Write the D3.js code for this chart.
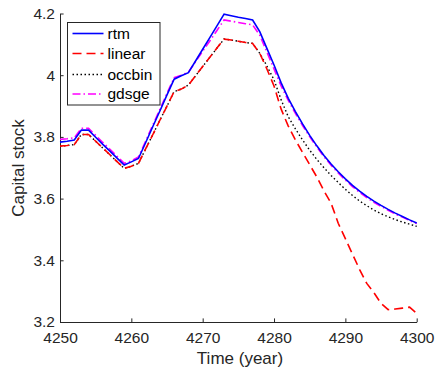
<!DOCTYPE html>
<html><head><meta charset="utf-8">
<script src="https://cdn.jsdelivr.net/npm/d3@7"></script>
<style>body{margin:0;background:#fff;}svg{display:block;font-family:"Liberation Sans",Arial,sans-serif;}</style>
</head><body><svg id="c" width="435" height="369"></svg>
<script>
const years = d3.range(4250, 4301);
const rtm = [3.783,3.786,3.790,3.822,3.822,3.799,3.776,3.754,3.731,3.709,3.719,3.730,3.781,3.833,3.884,3.936,3.987,3.998,4.008,4.046,4.084,4.122,4.160,4.198,4.193,4.188,4.184,4.179,4.141,4.087,4.033,3.975,3.925,3.882,3.842,3.805,3.771,3.740,3.712,3.687,3.664,3.643,3.624,3.607,3.592,3.578,3.565,3.553,3.542,3.531,3.521];
const linear = [3.770,3.772,3.775,3.808,3.808,3.786,3.764,3.742,3.720,3.698,3.705,3.714,3.761,3.807,3.854,3.900,3.947,3.955,3.968,3.998,4.028,4.058,4.088,4.117,4.114,4.110,4.106,4.103,4.071,4.020,3.965,3.890,3.835,3.790,3.750,3.710,3.670,3.625,3.585,3.520,3.470,3.420,3.370,3.325,3.295,3.260,3.240,3.242,3.245,3.248,3.228];
const occbin = [3.770,3.772,3.775,3.808,3.808,3.786,3.764,3.742,3.720,3.698,3.705,3.714,3.761,3.807,3.854,3.900,3.947,3.955,3.968,3.998,4.028,4.058,4.088,4.117,4.114,4.110,4.106,4.103,4.071,4.030,3.985,3.920,3.865,3.826,3.790,3.757,3.727,3.700,3.675,3.652,3.630,3.610,3.592,3.577,3.563,3.551,3.541,3.532,3.524,3.517,3.510];
const gdsge = [3.792,3.794,3.797,3.828,3.828,3.805,3.782,3.760,3.737,3.714,3.722,3.735,3.786,3.838,3.889,3.941,3.992,4.000,4.010,4.044,4.078,4.111,4.145,4.179,4.175,4.171,4.167,4.163,4.130,4.075,4.020,3.965,3.918,3.876,3.837,3.801,3.767,3.736,3.708,3.683,3.660,3.639,3.620,3.603,3.588,3.575,3.562,3.550,3.540,3.529,3.519];
const seriesNames = ["rtm","linear","occbin","gdsge"];
const xTicks = [4250,4260,4270,4280,4290,4300];
const yTicks = [3.2,3.4,3.6,3.8,4.0,4.2];

const svg = d3.select("#c");
const L = 60, R = 416.7, T = 13.5, B = 322;
const x = d3.scaleLinear().domain([4250,4300]).range([L,R]);
const y = d3.scaleLinear().domain([3.2,4.2]).range([B,T]);
const axc = "#262626";

const gx = svg.append("g").attr("transform",`translate(0,${B})`)
  .call(d3.axisBottom(x).tickValues(xTicks).tickSizeInner(-3.6).tickSizeOuter(0).tickPadding(10).tickFormat(d3.format("d")));
const gy = svg.append("g").attr("transform",`translate(${L},0)`)
  .call(d3.axisLeft(y).tickValues(yTicks).tickSizeInner(-3.6).tickSizeOuter(0).tickPadding(5).tickFormat(d=>String(+d.toFixed(1))));
[gx,gy].forEach(g=>{
  g.selectAll("path").attr("stroke",axc).attr("stroke-width",1);
  g.selectAll("line").attr("stroke",axc);
  g.selectAll("text").attr("fill",axc).style("font-size","15.5px").style("font-family","'Liberation Sans',Arial,sans-serif");
});
gx.selectAll("text").attr("dy","0.71em");

const styles = {
  rtm:{color:"#0000ff",dash:null,w:1.6},
  linear:{color:"#ff0000",dash:"9,5",w:1.6},
  occbin:{color:"#000000",dash:"1.5,2.5",w:1.4},
  gdsge:{color:"#ff00ff",dash:"8,3,1.5,3",w:1.6}
};
const data = {rtm, linear, occbin, gdsge};
const line = d3.line().x((d,i)=>x(years[i])).y(d=>y(d));
["gdsge","occbin","linear","rtm"].forEach(k=>{
  svg.append("path").datum(data[k]).attr("d",line).attr("fill","none")
    .attr("stroke",styles[k].color).attr("stroke-width",styles[k].w)
    .attr("stroke-dasharray",styles[k].dash);
});

svg.append("text").attr("x",240).attr("y",364).attr("text-anchor","middle")
  .attr("fill",axc).style("font-size","17px").text("Time (year)");
svg.append("text").attr("transform","translate(24,168) rotate(-90)").attr("text-anchor","middle")
  .attr("fill",axc).style("font-size","17px").text("Capital stock");

// legend
const lg = svg.append("g");
lg.append("rect").attr("x",67.5).attr("y",22.5).attr("width",92.5).attr("height",82.5)
  .attr("fill","#fff").attr("stroke",axc).attr("stroke-width",1);
const ly = [33.5,53.5,74.5,94];
seriesNames.forEach((k,i)=>{
  lg.append("line").attr("x1",72.5).attr("x2",103.5).attr("y1",ly[i]).attr("y2",ly[i])
    .attr("stroke",styles[k].color).attr("stroke-width",styles[k].w).attr("stroke-dasharray",styles[k].dash);
  lg.append("text").attr("x",107.5).attr("y",ly[i]).attr("dy","0.35em")
    .attr("fill","#000").style("font-size","15.5px").text(k);
});
</script></body></html>
